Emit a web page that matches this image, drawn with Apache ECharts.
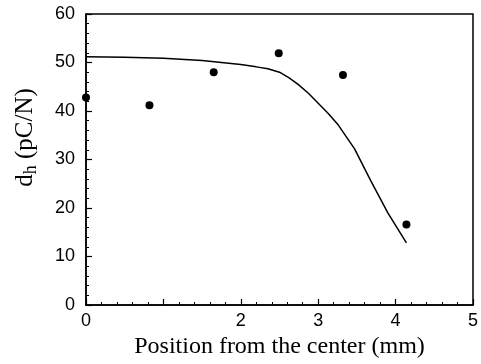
<!DOCTYPE html>
<html>
<head>
<meta charset="utf-8">
<script src="https://cdn.jsdelivr.net/npm/echarts@6/dist/echarts.min.js"></script>
<style>
  html, body { margin: 0; padding: 0; background: #fff; }
  #chart { width: 481px; height: 364px; }
</style>
</head>
<body>
<div id="chart"></div>
<script>
// Measured d_h across the sample (position in mm, d_h in pC/N)
const measuredX = [0, 0.82, 1.65, 2.49, 3.32, 4.14];
const measuredY = [42.8, 41.2, 48.0, 51.9, 47.4, 16.6];

// Calculated profile
const modelX = [0, 0.5, 1.0, 1.5, 2.0, 2.2, 2.35, 2.5, 2.62, 2.74, 2.87, 3.0, 3.13, 3.26, 3.47, 3.68, 3.9, 4.14];
const modelY = [51.2, 51.1, 50.9, 50.4, 49.6, 49.1, 48.7, 48.0, 46.9, 45.5, 43.7, 41.6, 39.5, 37.1, 32.2, 25.6, 19.0, 12.8];

// Axis tick labels (the "1" position is left unlabelled)
const xTickLabels = ['0', '', '2', '3', '4', '5'];
const yTickLabels = ['0', '10', '20', '30', '40', '50', '60'];

const pair = (xs, ys) => xs.map((x, i) => [x, ys[i]]);

const chart = echarts.init(document.getElementById('chart'), null, { renderer: 'canvas' });

const axisCommon = {
  axisLine: { show: true, onZero: false, lineStyle: { color: '#000', width: 1.5 } },
  axisTick: { show: true, inside: true, length: 6, lineStyle: { color: '#000', width: 1.2 } },
  minorTick: { show: true, splitNumber: 5, length: 3, lineStyle: { color: '#000', width: 1 } },
  splitLine: { show: false },
  axisLabel: { color: '#000', fontFamily: 'Liberation Sans', fontSize: 18 }
};

chart.setOption({
  animation: false,
  backgroundColor: '#fff',
  grid: {
    left: 86, right: 5, top: 14, bottom: 59,
    show: true, borderColor: '#000', borderWidth: 1.5, backgroundColor: 'transparent'
  },
  xAxis: Object.assign({}, axisCommon, {
    type: 'value', min: 0, max: 5, interval: 1,
    axisLabel: Object.assign({}, axisCommon.axisLabel, {
      margin: 7,
      formatter: (v) => xTickLabels[Math.round(v)]
    }),
    name: 'Position from the center (mm)',
    nameLocation: 'middle',
    nameGap: 26,
    nameTextStyle: { color: '#000', fontFamily: 'Liberation Serif', fontSize: 24 }
  }),
  yAxis: Object.assign({}, axisCommon, {
    type: 'value', min: 0, max: 60, interval: 10,
    axisLabel: Object.assign({}, axisCommon.axisLabel, {
      margin: 11,
      formatter: (v) => yTickLabels[Math.round(v / 10)]
    }),
    name: 'd{sub|h} (pC/N)',
    nameLocation: 'middle',
    nameGap: 46,
    nameTextStyle: {
      color: '#000', fontFamily: 'Liberation Serif', fontSize: 25,
      padding: [0, 0, 0, 44],
      rich: {
        sub: { fontFamily: 'Liberation Serif', fontSize: 18, verticalAlign: 'bottom', padding: [12, 0, 0, 0], color: '#000' }
      }
    }
  }),
  series: [
    {
      type: 'line',
      data: pair(modelX, modelY),
      smooth: false,
      showSymbol: false,
      lineStyle: { color: '#000', width: 1.5 },
      z: 2
    },
    {
      type: 'scatter',
      data: pair(measuredX, measuredY),
      symbol: 'circle',
      symbolSize: 8,
      itemStyle: { color: '#000', opacity: 1 },
      z: 3
    }
  ]
});
</script>
</body>
</html>
